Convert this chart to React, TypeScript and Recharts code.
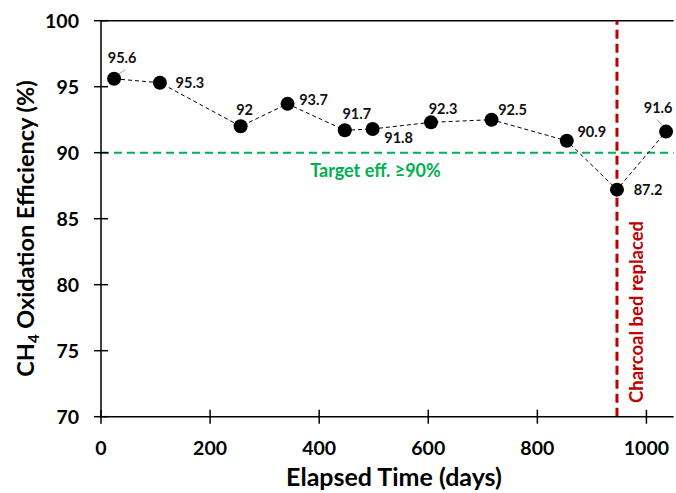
import { Line, LineChart, ReferenceLine, XAxis, YAxis } from "recharts";

const DAYS = [24, 108, 256, 342, 447, 498, 605, 716, 854, 946, 1036];
const EFFICIENCY = [95.6, 95.3, 92, 93.7, 91.7, 91.8, 92.3, 92.5, 90.9, 87.2, 91.6];
const X_TICKS = [0, 200, 400, 600, 800, 1000];
const Y_TICKS = [70, 75, 80, 85, 90, 95, 100];
const TARGET = 90;
const BED_REPLACED_DAY = 946;

const data = DAYS.map((d, i) => ({ day: d, eff: EFFICIENCY[i] }));

// label offsets (dx, dy) from each point, plus which ones get a leader line
const LABEL_POS = [
  [8, -21], [30, 0], [4, -17], [26, -4], [12, -16], [26, 9],
  [12, -14], [21, -10], [25, -9], [31, 0], [-8, -24],
];
const LEADERS: any = { 0: [[4, -4], [11, -9]], 10: [[-3, -5], [-9, -12]] };

const FONT = "Lato, 'Open Sans', sans-serif";
const TS = 7;
const TM_X = 17;
const TM_Y = 15;

const XTick = (props: any) => {
  const { x, y, payload } = props;
  const axisY = y - TS - TM_X;
  return (
    <g>
      <line x1={x} x2={x} y1={axisY - 7} y2={axisY + 7} stroke="#000" strokeWidth={1.5} />
      <text x={x} y={y} dy="0.71em" textAnchor="middle" fontSize={19.5} fontWeight="bold" fill="#000">
        {payload.value}
      </text>
    </g>
  );
};

const YTick = (props: any) => {
  const { x, y, payload } = props;
  const axisX = x + TS + TM_Y;
  return (
    <g>
      <line x1={axisX - 7} x2={axisX + 7} y1={y} y2={y} stroke="#000" strokeWidth={1.5} />
      <text x={x} y={y} dy="0.36em" textAnchor="end" fontSize={19.5} fontWeight="bold" fill="#000">
        {payload.value}
      </text>
    </g>
  );
};

const Dot = (props: any) => {
  const { cx, cy, index, value } = props;
  const [dx, dy] = LABEL_POS[index];
  const lead = LEADERS[index];
  const v = Array.isArray(value) ? value[1] : value;
  return (
    <g key={index}>
      {lead && (
        <line
          x1={cx + lead[0][0]} y1={cy + lead[0][1]}
          x2={cx + lead[1][0]} y2={cy + lead[1][1]}
          stroke="#999" strokeWidth={1}
        />
      )}
      <circle cx={cx} cy={cy} r={7} fill="#000" />
      <text x={cx + dx} y={cy + dy} dy="0.36em" textAnchor="middle" fontSize={14.5} fontWeight="bold" fill="#111">
        {v}
      </text>
    </g>
  );
};

export default function App() {
  return (
    <div style={{ position: "absolute", left: 0, top: 0, fontFamily: FONT }}>
      <LineChart
        width={676}
        height={493}
        data={data}
        margin={{ top: 20.7, right: 2.3, left: 100, bottom: 75.3 }}
        style={{ fontFamily: FONT }}
      >
        <XAxis
          dataKey="day"
          type="number"
          domain={[0, 1050]}
          ticks={X_TICKS}
          height={1}
          tickSize={TS}
          tickMargin={TM_X}
          tickLine={false}
          tick={<XTick />}
          axisLine={{ stroke: "#000", strokeWidth: 1.5 }}
          label={{
            content: (p: any) => (
              <text
                x={394}
                y={p.viewBox.y + 69}
                textAnchor="middle"
                fontSize={25}
                fontWeight="bold"
                fill="#000"
              >
                Elapsed Time (days)
              </text>
            ),
          }}
        />
        <YAxis
          type="number"
          domain={[70, 100]}
          ticks={Y_TICKS}
          width={1}
          tickSize={TS}
          tickMargin={TM_Y}
          tickLine={false}
          tick={<YTick />}
          axisLine={{ stroke: "#000", strokeWidth: 1.5 }}
          label={{
            content: () => {
              const cx = 26;
              const cy = 228.5;
              return (
                <text
                  x={cx}
                  y={cy}
                  transform={`rotate(-90 ${cx} ${cy})`}
                  textAnchor="middle"
                  dy="0.36em"
                  fontSize={23.5}
                  fontWeight="bold"
                  fill="#000"
                >
                  CH<tspan fontSize={15} dy={5}>4</tspan>
                  <tspan dy={-5}> Oxidation Efficiency (%)</tspan>
                </text>
              );
            },
          }}
        />
        <ReferenceLine y={100} stroke="#000" strokeWidth={1.5} />
        <ReferenceLine
          y={TARGET}
          stroke="#00B050"
          strokeWidth={2}
          strokeDasharray="8 5"
          label={{
            content: (p: any) => (
              <text
                x={375.5}
                y={p.viewBox.y + 18}
                dy="0.36em"
                textAnchor="middle"
                fontSize={18}
                fontWeight="bold"
                fill="#00B050"
              >
                Target eff. ≥90%
              </text>
            ),
          }}
        />
        <ReferenceLine
          x={BED_REPLACED_DAY}
          stroke="#C00000"
          strokeWidth={3}
          strokeDasharray="9 5"
          label={{
            content: (p: any) => {
              const cx = p.viewBox.x + 19;
              const cy = 312;
              return (
                <text
                  x={cx}
                  y={cy}
                  transform={`rotate(-90 ${cx} ${cy})`}
                  textAnchor="middle"
                  dy="0.36em"
                  fontSize={18.5}
                  fontWeight="bold"
                  fill="#C00000"
                >
                  Charcoal bed replaced
                </text>
              );
            },
          }}
        />
        <Line
          dataKey="eff"
          stroke="#000"
          strokeWidth={1}
          strokeDasharray="4 3"
          dot={<Dot />}
          activeDot={false}
          isAnimationActive={false}
        />
      </LineChart>
    </div>
  );
}
